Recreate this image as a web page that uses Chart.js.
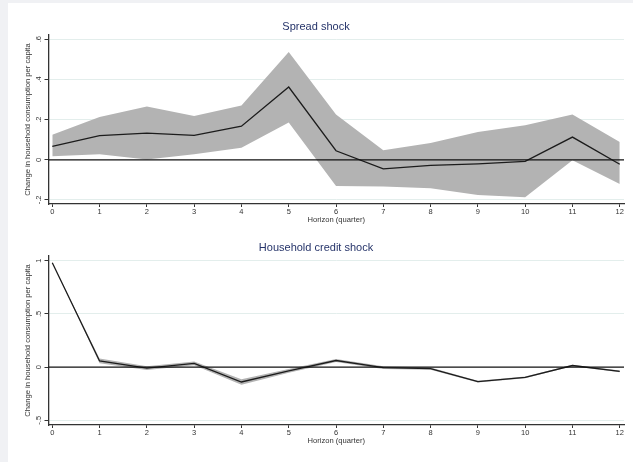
<!DOCTYPE html>
<html>
<head>
<meta charset="utf-8">
<script src="https://cdn.jsdelivr.net/npm/chart.js@4.4.1/dist/chart.umd.min.js"></script>
<style>
  html, body { margin: 0; padding: 0; background: #f0f1f4; }
  #sheet { position: absolute; left: 8px; top: 3px; width: 625px; height: 459px; background: #ffffff; }
  #spread { position: absolute; left: 0; top: 0; }
  #credit { position: absolute; left: 0; top: 228px; }
</style>
</head>
<body>
<div id="sheet">
  <canvas id="spread" width="625" height="228"></canvas>
  <canvas id="credit" width="625" height="231"></canvas>
</div>
<script>
// Impulse responses of household consumption per capita, horizons in quarters
const horizons = [0, 1, 2, 3, 4, 5, 6, 7, 8, 9, 10, 11, 12];

// Spread shock: point estimate and confidence band
const spreadIrf   = [0.067, 0.120, 0.133, 0.122, 0.167, 0.362, 0.045, -0.045, -0.028, -0.020, -0.008, 0.113, -0.022];
const spreadUpper = [0.125, 0.213, 0.265, 0.218, 0.270, 0.537, 0.225, 0.047, 0.083, 0.138, 0.172, 0.225, 0.088];
const spreadLower = [0.017, 0.028, 0.002, 0.027, 0.060, 0.185, -0.130, -0.133, -0.142, -0.175, -0.187, -0.002, -0.120];
const spreadTickValues = [-0.2, 0, 0.2, 0.4, 0.6];
const spreadTickLabels = ['-.2', '0', '.2', '.4', '.6'];

// Household credit shock: point estimate and confidence band
const creditIrf   = [0.980, 0.058, -0.010, 0.035, -0.140, -0.036, 0.062, -0.005, -0.014, -0.136, -0.097, 0.015, -0.041];
const creditUpper = [0.980, 0.080, 0.008, 0.053, -0.115, -0.018, 0.077, 0.007, -0.004, -0.128, -0.089, 0.023, -0.033];
const creditLower = [0.980, 0.036, -0.028, 0.017, -0.165, -0.054, 0.047, -0.017, -0.024, -0.144, -0.105, 0.007, -0.049];
const creditTickValues = [-0.5, 0, 0.5, 1];
const creditTickLabels = ['-.5', '0', '.5', '1'];

const FONT = "'Liberation Sans', Arial, Helvetica, sans-serif";
const AXIS_COLOR = '#333333';
const GRID_COLOR = '#e3eeec';
const BAND_COLOR = '#b3b3b3';
const TITLE_COLOR = '#26346a';

// Black reference line at zero, drawn through the y scale
const zeroLine = {
  id: 'zeroLine',
  afterDatasetsDraw(chart) {
    const { ctx, chartArea, scales } = chart;
    const y = scales.y.getPixelForValue(0);
    ctx.save();
    ctx.strokeStyle = '#111111';
    ctx.lineWidth = 1.2;
    ctx.beginPath();
    ctx.moveTo(chartArea.left, y);
    ctx.lineTo(chartArea.right, y);
    ctx.stroke();
    ctx.restore();
  }
};

function points(values) {
  return horizons.map((h, i) => ({ x: h, y: values[i] }));
}

function makeChart(canvasId, cfg) {
  return new Chart(document.getElementById(canvasId), {
    type: 'line',
    data: {
      datasets: [
        // band: upper edge filled down to the lower edge (next dataset)
        { data: points(cfg.upper), fill: '+1', backgroundColor: BAND_COLOR, borderWidth: 0, pointRadius: 0, tension: 0, order: 2 },
        { data: points(cfg.lower), fill: false, borderWidth: 0, pointRadius: 0, tension: 0, order: 3 },
        // point estimate on top of the band
        { data: points(cfg.irf), fill: false, borderColor: '#1c1c1c', borderWidth: 1.3, pointRadius: 0, tension: 0, order: 0 }
      ]
    },
    plugins: [zeroLine],
    options: {
      responsive: false,
      animation: false,
      devicePixelRatio: 1,
      layout: { padding: { left: 0, right: 9, top: 0, bottom: 0 } },
      plugins: {
        legend: { display: false },
        tooltip: { enabled: false },
        title: {
          display: true,
          text: cfg.title,
          color: TITLE_COLOR,
          font: { family: FONT, size: 11, weight: 'normal', lineHeight: 1.2 },
          padding: cfg.titlePadding
        }
      },
      scales: {
        x: {
          type: 'linear',
          min: -0.08,
          max: 12.09,
          afterBuildTicks: (scale) => { scale.ticks = horizons.map(v => ({ value: v })); },
          afterFit: (scale) => { scale.height = cfg.xAxisHeight; },
          ticks: {
            color: AXIS_COLOR,
            font: { family: FONT, size: 7.5, lineHeight: 1.2 },
            padding: cfg.xTickPadding,
            maxRotation: 0,
            callback: (v) => String(v)
          },
          grid: { drawOnChartArea: false, tickLength: 3, tickColor: AXIS_COLOR, tickWidth: 1 },
          border: { color: AXIS_COLOR, width: 1.3 },
          title: {
            display: true,
            text: 'Horizon (quarter)',
            color: AXIS_COLOR,
            font: { family: FONT, size: 7.6, lineHeight: 1.2 },
            padding: { top: 0, bottom: cfg.xTitlePad }
          }
        },
        y: {
          type: 'linear',
          min: cfg.yMin,
          max: cfg.yMax,
          afterBuildTicks: (scale) => { scale.ticks = cfg.tickValues.map(v => ({ value: v })); },
          afterFit: (scale) => { scale.width = 40.5; },
          ticks: {
            color: AXIS_COLOR,
            font: { family: FONT, size: 7.5, lineHeight: 1.2 },
            minRotation: 90,
            maxRotation: 90,
            crossAlign: 'center',
            padding: 1,
            callback: (v, i) => cfg.tickLabels[i]
          },
          grid: {
            color: (ctx) => (ctx.tick && ctx.tick.value === 0 ? 'rgba(0,0,0,0)' : GRID_COLOR),
            lineWidth: 1,
            tickLength: 4,
            tickColor: AXIS_COLOR,
            tickWidth: 1
          },
          border: { color: AXIS_COLOR, width: 1.3 },
          title: {
            display: true,
            text: 'Change in household consumption per capita',
            color: AXIS_COLOR,
            font: { family: FONT, size: 7.6, lineHeight: 1.2 },
            padding: { top: 15.7, bottom: 0 }
          }
        }
      }
    }
  });
}

makeChart('spread', {
  title: 'Spread shock',
  irf: spreadIrf, upper: spreadUpper, lower: spreadLower,
  tickValues: spreadTickValues, tickLabels: spreadTickLabels,
  yMin: -0.22, yMax: 0.621,
  titlePadding: { top: 17.1, bottom: 1.7 },
  xAxisHeight: 27, xTickPadding: 0.8, xTitlePad: 6.4
});

makeChart('credit', {
  title: 'Household credit shock',
  irf: creditIrf, upper: creditUpper, lower: creditLower,
  tickValues: creditTickValues, tickLabels: creditTickLabels,
  yMin: -0.544, yMax: 1.044,
  titlePadding: { top: 10.1, bottom: 1.7 },
  xAxisHeight: 37, xTickPadding: 0.2, xTitlePad: 16.7
});
</script>
</body>
</html>
